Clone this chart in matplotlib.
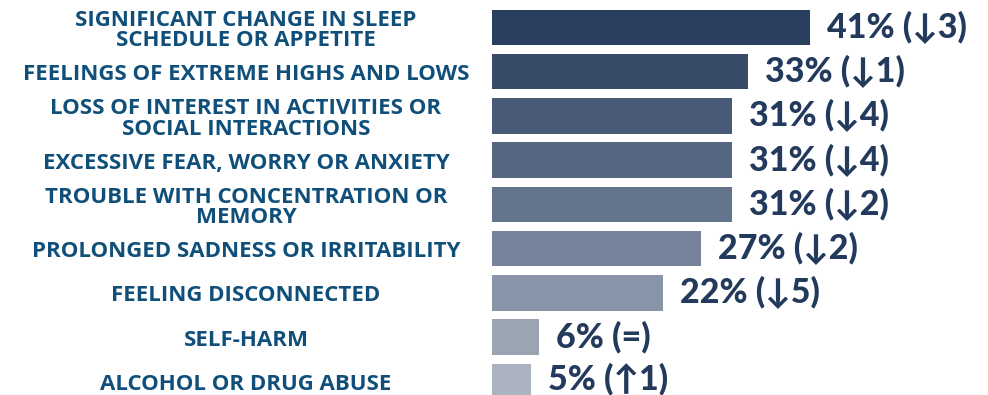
import numpy as np
import matplotlib.pyplot as plt
import matplotlib.transforms as mtransforms


labels = [
    "SIGNIFICANT CHANGE IN SLEEP\nSCHEDULE OR APPETITE",
    "FEELINGS OF EXTREME HIGHS AND LOWS",
    "LOSS OF INTEREST IN ACTIVITIES OR\nSOCIAL INTERACTIONS",
    "EXCESSIVE FEAR, WORRY OR ANXIETY",
    "TROUBLE WITH CONCENTRATION OR\nMEMORY",
    "PROLONGED SADNESS OR IRRITABILITY",
    "FEELING DISCONNECTED",
    "SELF-HARM",
    "ALCOHOL OR DRUG ABUSE",
]
values = [41, 33, 31, 31, 31, 27, 22, 6, 5]
changes = ["↓3", "↓1", "↓4", "↓4", "↓2", "↓2", "↓5", "=", "↑1"]

bar_colors = ["#2a3e5e", "#384b69", "#485a77", "#556682", "#65748d",
              "#76839a", "#8894a7", "#9aa4b3", "#abb3c0"]
LABEL_COLOR = "#0f4f7a"
VALUE_COLOR = "#233a5c"

plt.rcParams['font.family'] = ['Lato', 'DejaVu Sans']

fig = plt.figure(figsize=(9.88, 3.95), dpi=100)
fig.patch.set_facecolor("white")
ax = fig.add_axes([0.498, 0.0, 0.502, 1.0])

y = np.arange(len(values))
ax.barh(y, values, height=0.8, color=bar_colors, edgecolor='none')

for i, (v, c) in enumerate(zip(values, changes)):
    ax.text(v + 2.2, min(i, 7.95), f"{v}% ({c})", va='center', ha='left',
            fontsize=24.5, fontweight='black', color=VALUE_COLOR)

trans = mtransforms.blended_transform_factory(fig.transFigure, ax.transData)
for i, lab in enumerate(labels):
    ax.text(0.249, i + 0.07, lab, transform=trans, ha='center', va='center',
            fontsize=16, fontweight='bold', color=LABEL_COLOR,
            linespacing=0.98, family=['Open Sans', 'DejaVu Sans'])

ax.set_xlim(0, 64)
ax.set_ylim(8.31, -0.62)
ax.axis('off')

plt.savefig("out.png", dpi=100, facecolor='white')
